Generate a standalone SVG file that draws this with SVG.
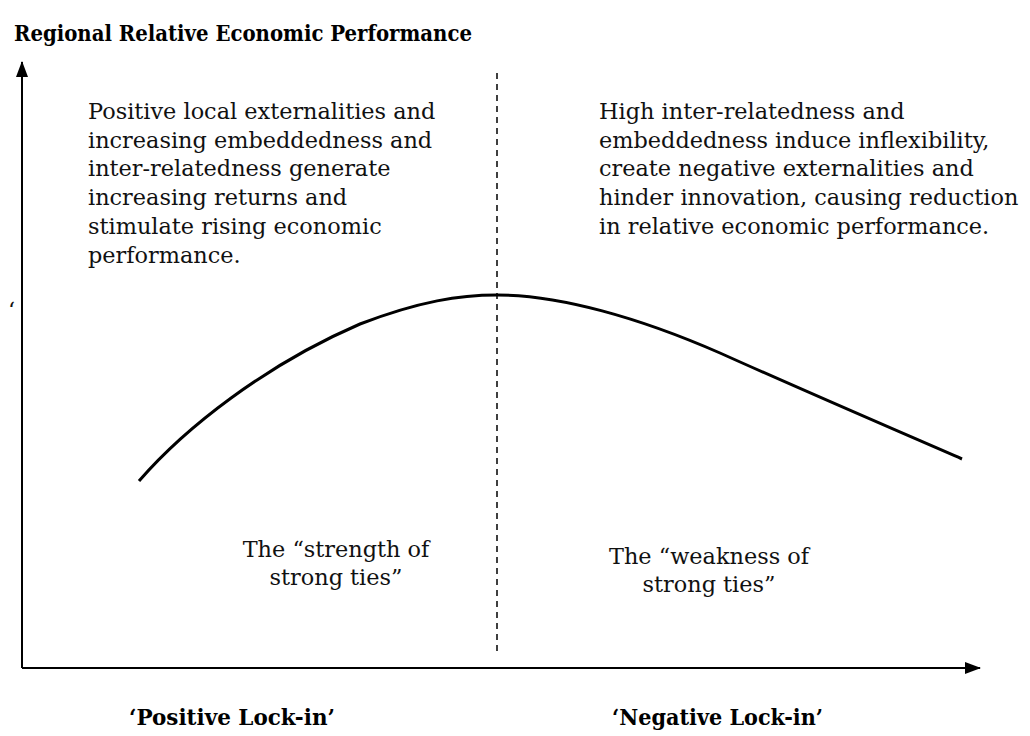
<svg xmlns="http://www.w3.org/2000/svg" width="1030" height="736" viewBox="0 0 1030 736">
<style>
.t{font-family:"DejaVu Serif","Liberation Serif",serif;font-size:22.4px;fill:#111}
.c{text-anchor:middle}
.b{font-family:"DejaVu Serif","Liberation Serif",serif;font-weight:bold;fill:#000}
.ax{stroke:#000;stroke-width:2;fill:none}
</style>
<defs>
<marker id="ah" viewBox="0 0 16 12" refX="15" refY="6" markerWidth="16" markerHeight="12" markerUnits="userSpaceOnUse" orient="auto">
<path d="M0,0 L16,6 L0,12 Z" fill="#000"/>
</marker>
</defs>
<text class="b" x="14" y="41" font-size="22.5" textLength="458" lengthAdjust="spacingAndGlyphs">Regional Relative Economic Performance</text>
<g id="connectors">
<line class="ax" x1="22" y1="668" x2="22" y2="62" marker-end="url(#ah)"/>
<line class="ax" x1="22" y1="668" x2="980" y2="668" marker-end="url(#ah)"/>
<line x1="497" y1="73" x2="497" y2="653" stroke="#000" stroke-width="1.5" stroke-dasharray="6,5"/>
<path d="M139,481 C185,428 265,365 360,324 C420,301 460,295 497,295 C560,295 640,318 720,353 C800,389 900,432 962,459" fill="none" stroke="#000" stroke-width="3"/>
</g>
<g id="left-text">
<text class="t" x="88" y="119">Positive local externalities and</text>
<text class="t" x="88" y="147.7">increasing embeddedness and</text>
<text class="t" x="88" y="176.4">inter-relatedness generate</text>
<text class="t" x="88" y="205.1">increasing returns and</text>
<text class="t" x="88" y="233.8">stimulate rising economic</text>
<text class="t" x="88" y="262.5">performance.</text>
</g>
<g id="right-text">
<text class="t" x="599" y="119">High inter-relatedness and</text>
<text class="t" x="599" y="147.7">embeddedness induce inflexibility,</text>
<text class="t" x="599" y="176.4">create negative externalities and</text>
<text class="t" x="599" y="205.1">hinder innovation, causing reduction</text>
<text class="t" x="599" y="233.8">in relative economic performance.</text>
</g>
<text class="t" x="8" y="318" font-size="20">‘</text>
<g id="strength">
<text class="t c" x="336" y="557">The “strength of</text>
<text class="t c" x="336" y="585">strong ties”</text>
</g>
<g id="weakness">
<text class="t c" x="709" y="564">The “weakness of</text>
<text class="t c" x="709" y="592">strong ties”</text>
</g>
<g id="positive-lockin">
<text class="b" x="129" y="725" font-size="23" textLength="206" lengthAdjust="spacingAndGlyphs">‘Positive Lock-in’</text>
</g>
<g id="negative-lockin">
<text class="b" x="612" y="725" font-size="23" textLength="211" lengthAdjust="spacingAndGlyphs">‘Negative Lock-in’</text>
</g>
</svg>
